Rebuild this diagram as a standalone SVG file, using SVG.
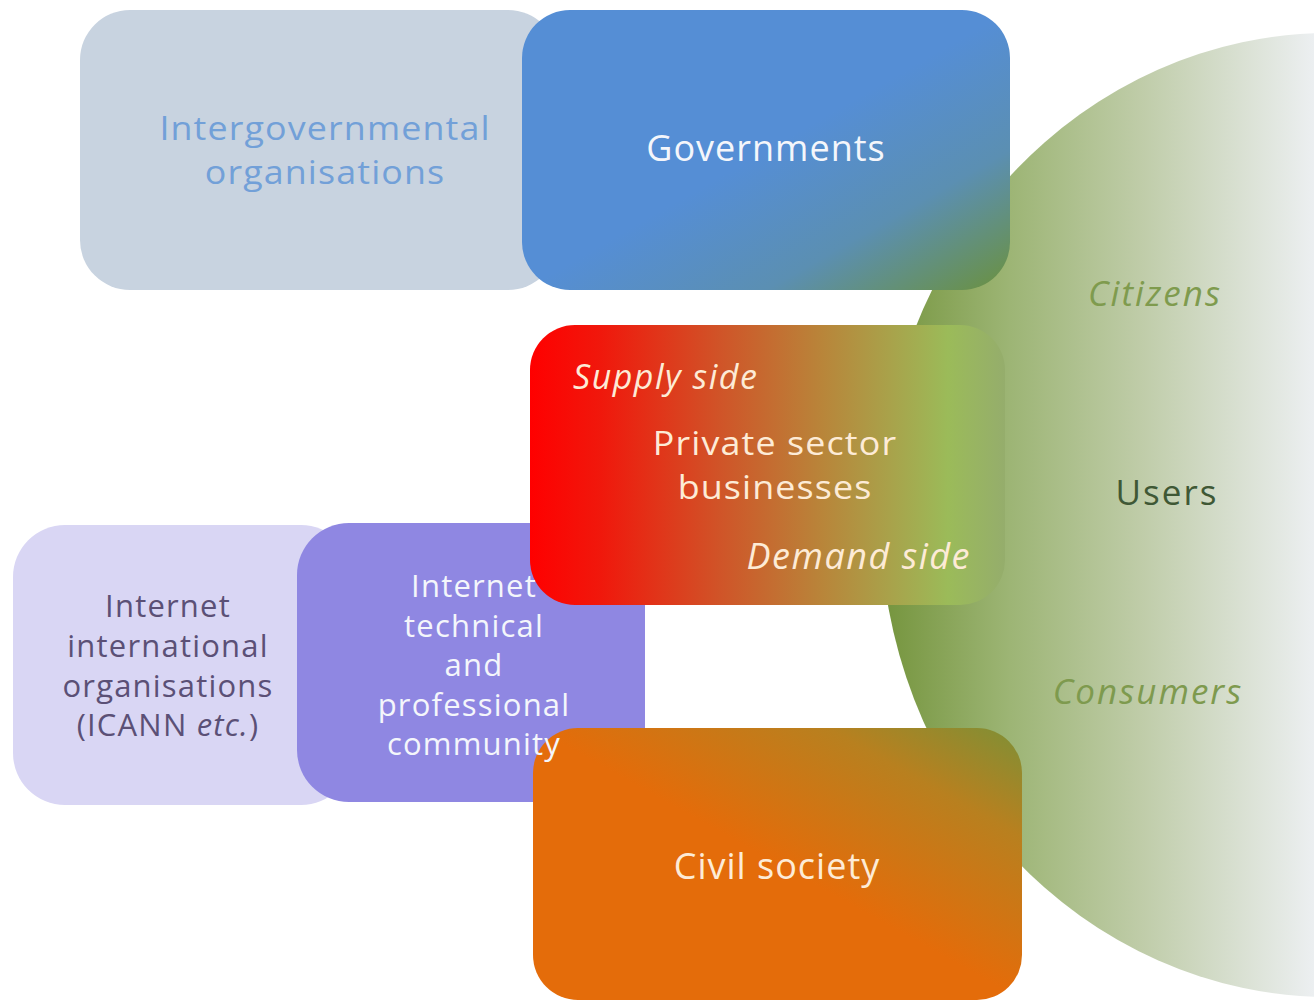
<svg xmlns="http://www.w3.org/2000/svg" width="1314" height="1002" viewBox="0 0 1314 1002">
<defs>
<linearGradient id="gUsers" gradientUnits="userSpaceOnUse" x1="880" y1="0" x2="1314" y2="0">
<stop offset="0" stop-color="#74943c"/>
<stop offset="0.3" stop-color="#9db575"/>
<stop offset="0.6" stop-color="#bfcca8"/>
<stop offset="1" stop-color="#eceff1"/>
</linearGradient>
<linearGradient id="gGov" x1="0" y1="0" x2="1" y2="1">
<stop offset="0" stop-color="#558ed5"/>
<stop offset="0.5" stop-color="#558ed5"/>
<stop offset="0.75" stop-color="#5b8fb2"/>
<stop offset="1" stop-color="#6b913e"/>
</linearGradient>
<linearGradient id="gPriv" x1="0" y1="0" x2="1" y2="0">
<stop offset="0" stop-color="#ff0000"/>
<stop offset="0.15" stop-color="#f0180c"/>
<stop offset="0.4" stop-color="#d05428"/>
<stop offset="0.62" stop-color="#b8863a"/>
<stop offset="0.88" stop-color="#9bbb59"/>
<stop offset="1" stop-color="#95ad6c"/>
</linearGradient>
<linearGradient id="gCivil" x1="0" y1="1" x2="1" y2="0">
<stop offset="0" stop-color="#e46c0a"/>
<stop offset="0.5" stop-color="#e46c0a"/>
<stop offset="0.8" stop-color="#b8801f"/>
<stop offset="1" stop-color="#7e9036"/>
</linearGradient>
</defs>
<style>
text{font-family:"Open Sans","Liberation Sans",sans-serif;text-anchor:middle}
.lbl{font-size:36px;letter-spacing:1px}
.two{font-size:32px;letter-spacing:1px}
.sm{font-size:31px;letter-spacing:1.2px}
.usr{font-size:35px;letter-spacing:2px}
.it{font-style:italic}
.wh{fill:#f4f6fb}
.cream{fill:#fdebd6}
</style>
<rect width="1314" height="1002" fill="#ffffff"/>
<g id="users">
<ellipse cx="1330" cy="515" rx="450" ry="482" fill="url(#gUsers)"/>
<text class="usr it" x="1155" y="306" fill="#7f9b4e">Citizens</text>
<text class="usr" x="1167" y="505" fill="#3f5835">Users</text>
<text class="usr it" x="1148" y="704" fill="#7e9a4e">Consumers</text>
</g>
<g id="intergovernmental">
<rect x="80" y="10" width="478" height="280" rx="50" fill="#c8d3e0"/>
<text class="two" fill="#72a0d8" transform="translate(325 0) scale(1.12 1)"><tspan x="0" y="140">Intergovernmental</tspan><tspan x="0" y="184">organisations</tspan></text>
</g>
<g id="governments">
<rect x="522" y="10" width="488" height="280" rx="48" fill="url(#gGov)"/>
<text class="lbl wh" x="766" y="161">Governments</text>
</g>
<g id="internet-international">
<rect x="13" y="525" width="340" height="280" rx="52" fill="#d9d6f4"/>
<text class="sm" fill="#5b5076"><tspan x="168" y="617">Internet</tspan><tspan x="168" y="657">international</tspan><tspan x="168" y="697">organisations</tspan><tspan x="168" y="736">(ICANN <tspan font-style="italic">etc.</tspan>)</tspan></text>
</g>
<g id="technical-community">
<rect x="297" y="523" width="348" height="279" rx="52" fill="#8f87e2"/>
</g>
<g id="private-sector">
<rect x="530" y="325" width="475" height="280" rx="45" fill="url(#gPriv)"/>
<text class="it cream" x="573" y="389" style="text-anchor:start;font-size:34px;letter-spacing:1.5px">Supply side</text>
<text class="two cream" transform="translate(775 0) scale(1.12 1)"><tspan x="0" y="455">Private sector</tspan><tspan x="0" y="499">businesses</tspan></text>
<text class="lbl it cream" x="971" y="569" style="text-anchor:end;letter-spacing:1.5px">Demand side</text>
</g>
<g id="civil-society">
<rect x="533" y="728" width="489" height="272" rx="45" fill="url(#gCivil)"/>
<text class="lbl cream" x="777" y="879">Civil society</text>
</g>
<g id="technical-community-label">
<text class="sm wh"><tspan x="474" y="597">Internet</tspan><tspan x="474" y="637">technical</tspan><tspan x="474" y="676">and</tspan><tspan x="474" y="716">professional</tspan><tspan x="474" y="755">community</tspan></text>
</g>
<g id="connectors"></g>
</svg>
